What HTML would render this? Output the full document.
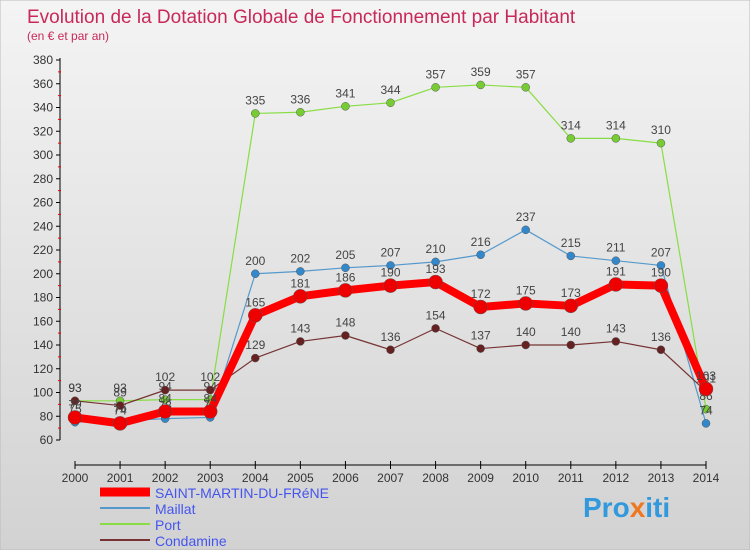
<!DOCTYPE html>
<html><head><meta charset="utf-8"><style>
body{margin:0;width:750px;height:550px;overflow:hidden;font-family:"Liberation Sans",sans-serif}
</style></head><body>
<svg id="c" width="750" height="550" xmlns="http://www.w3.org/2000/svg">
<defs><linearGradient id="bg" x1="0" y1="0" x2="0" y2="1"><stop offset="0" stop-color="#f4f4f4"/><stop offset="1" stop-color="#d2d2d2"/></linearGradient></defs>
<rect width="750" height="550" fill="url(#bg)" stroke="#bbb"/>
<text x="27" y="23" font-size="19" fill="#c8285a">Evolution de la Dotation Globale de Fonctionnement par Habitant</text>
<text x="27" y="40" font-size="12" fill="#c8285a">(en € et par an)</text>
<g id="axes"></g><g id="series"></g><g id="legend"></g>
<text x="583" y="517" font-size="28" font-weight="bold" fill="#3399dd">Pro<tspan fill="#ee7722">x</tspan>iti</text>
</svg>
<script>
const years=[2000,2001,2002,2003,2004,2005,2006,2007,2008,2009,2010,2011,2012,2013,2014];
const yTicks=[60,80,100,120,140,160,180,200,220,240,260,280,300,320,340,360,380];
const seriesNames=["SAINT-MARTIN-DU-FRéNE","Maillat","Port","Condamine"];
const stMartin=[79,74,84,84,165,181,186,190,193,172,175,173,191,190,103];
const maillat=[75,76,78,79,200,202,205,207,210,216,237,215,211,207,74];
const port=[93,93,94,94,335,336,341,344,357,359,357,314,314,310,86];
const condamine=[93,89,102,102,129,143,148,136,154,137,140,140,143,136,101];
const NS="http://www.w3.org/2000/svg";
const X=i=>75+i*(706-75)/14;
const Y=v=>440-(v-60)*(380/320);
function mk(t,a,p){const e=document.createElementNS(NS,t);for(const k in a)e.setAttribute(k,a[k]);p.appendChild(e);return e;}
const ax=document.getElementById('axes');
let l=mk('line',{x1:60,y1:Y(380)-2,x2:60,y2:440,stroke:'#000'},ax);


l=mk('line',{x1:X(0),y1:465,x2:X(14),y2:465,stroke:'#000'},ax);


yTicks.forEach(v=>{
 mk('line',{x1:56,y1:Y(v),x2:60,y2:Y(v),stroke:'#000'},ax);
 if(v<380)mk('line',{x1:58,y1:Y(v+10),x2:61,y2:Y(v+10),stroke:'#e00'},ax);
 const t=mk('text',{x:53,y:Y(v)+4,'font-size':12,'text-anchor':'end',fill:'#333'},ax);t.textContent=v;
 
 
});
years.forEach((y,i)=>{
 mk('line',{x1:X(i),y1:461,x2:X(i),y2:469,stroke:'#000'},ax);
 const t=mk('text',{x:X(i),y:482,'font-size':12,'text-anchor':'middle',fill:'#333'},ax);t.textContent=y;
 
 
});
const sg=document.getElementById('series');
const defs=[[port,'#88dd44','#77cc33',1.2,4],[maillat,'#5599cc','#3388cc',1.2,4],[condamine,'#773333','#662222',1.2,4],[stMartin,'#ff0000','#ee0000',8,7]];
const names=['port','maillat','condamine','saint-martin'];
defs.forEach((d,k)=>{
 const [vals,lc,pc,w,r]=d;
 const g=mk('g',{},sg);
 
 
 mk('polyline',{points:vals.map((v,i)=>X(i)+','+Y(v)).join(' '),fill:'none',stroke:lc,'stroke-width':w,'stroke-linejoin':'round'},g);
 vals.forEach((v,i)=>{
  const c=mk('circle',{cx:X(i),cy:Y(v),r:r,fill:pc,stroke:'#555','stroke-width':0.5},g);
  
  
  const t=mk('text',{x:X(i),y:Y(v)-9,'font-size':12,'text-anchor':'middle',fill:'#444'},g);t.textContent=v;
  
  
 });
});
const lg=document.getElementById('legend');
const lcols=['#ff0000','#5599cc','#88dd44','#773333'],lw=[9,2,2,2];
seriesNames.forEach((n,i)=>{
 const yy=492+i*16;
 const g=mk('g',{},lg);
 
 
 mk('line',{x1:100,y1:yy,x2:150,y2:yy,stroke:lcols[i],'stroke-width':lw[i]},g);
 const t=mk('text',{x:155,y:yy+6,'font-size':14,fill:'#4455ee'},g);t.textContent=n;
});
</script>
</body></html>
